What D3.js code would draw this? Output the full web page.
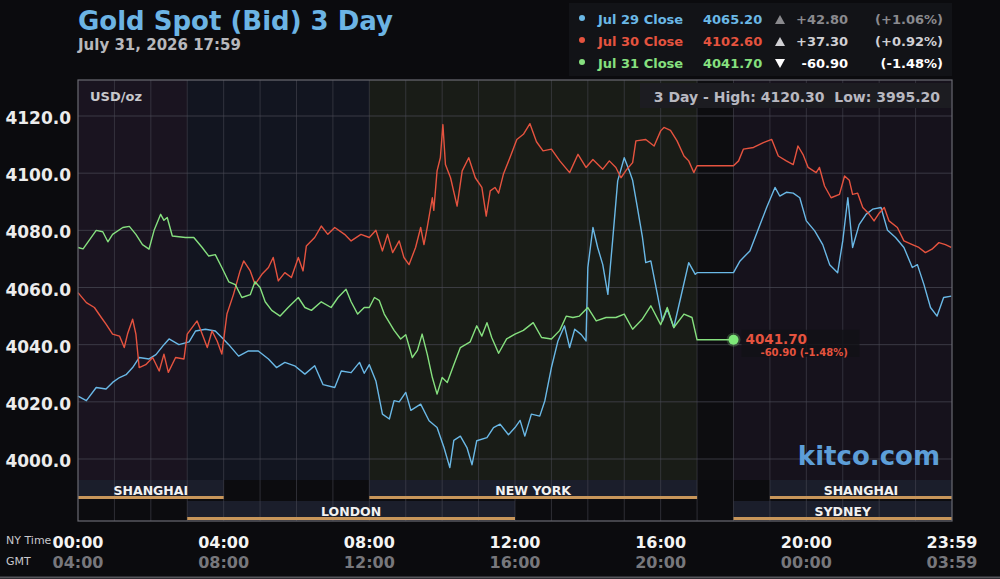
<!DOCTYPE html>
<html>
<head>
<meta charset="utf-8">
<script src="https://cdn.jsdelivr.net/npm/d3@7"></script>
<style>
  html, body { margin: 0; padding: 0; background: #0b0b0e; }
  svg { display: block; font-family: "DejaVu Sans", sans-serif; }
</style>
</head>
<body>
<div id="chart"></div>
<script>
(function(){
var width = 1000,
    height = 579;

// [hour of NY day, price]
var jul29 = [[0,4022],[0.23,4020.4],[0.5,4025],[0.77,4024.5],[0.95,4026.8],[1.14,4028.5],[1.32,4029.5],[1.5,4032],[1.68,4035.5],[1.95,4035],
  [2.14,4036.5],[2.36,4040],[2.5,4042],[2.77,4040],[3.05,4041],[3.23,4044.8],[3.5,4045.4],[3.77,4044.8],[3.95,4042.5],[4.14,4040],
  [4.41,4036],[4.68,4037.8],[4.95,4037.8],[5.23,4035],[5.45,4032],[5.68,4033.8],[5.95,4032.6],[6.23,4029.7],[6.5,4032.6],[6.73,4026],
  [7.05,4025],[7.23,4030.8],[7.5,4030.2],[7.73,4033.8],[7.86,4030],[8,4033],[8.18,4027.3],[8.36,4015.7],[8.55,4014],[8.68,4020.4],
  [8.82,4020],[9,4023.3],[9.14,4017],[9.41,4019.2],[9.64,4013.4],[9.86,4011],[10.05,4004],[10.21,3997],[10.32,4006.5],[10.5,4008],
  [10.68,4004],[10.82,3998],[10.95,4006.4],[11.23,4007.5],[11.41,4011],[11.59,4012.2],[11.82,4008.5],[12,4011],[12.14,4013.5],[12.27,4008],
  [12.45,4015.7],[12.68,4015],[12.82,4020.4],[13,4032],[13.18,4041.3],[13.36,4046.6],[13.5,4039],[13.64,4045.4],[13.82,4043.5],[13.95,4041.3],
  [14,4067],[14.14,4081],[14.27,4074],[14.41,4068],[14.55,4057.6],[14.68,4076.3],[14.82,4097.3],[15,4105.4],[15.14,4100.8],[15.23,4097.5],
  [15.36,4088],[15.5,4077.5],[15.59,4068.7],[15.73,4069.3],[15.91,4057.6],[16.05,4048.3],[16.18,4052.5],[16.36,4046],[16.55,4056.5],[16.77,4068.7],
  [16.95,4064.6],[17,4065.2],[18,4065.2],[18.18,4069.3],[18.45,4072.8],[18.73,4082],[18.91,4088],[19.14,4095],[19.27,4092],[19.45,4093.3],
  [19.64,4093],[19.82,4091.4],[20,4083.3],[20.23,4079.8],[20.45,4075],[20.64,4068],[20.86,4065.2],[21,4076.3],[21.14,4091.4],[21.27,4074],
  [21.45,4082],[21.64,4085.6],[21.82,4087.4],[22.05,4088],[22.23,4080],[22.45,4077.5],[22.68,4074],[22.91,4067],[23.05,4068],[23.23,4061],
  [23.41,4053],[23.59,4050],[23.77,4056.5],[23.98,4057]];

var jul30 = [[0,4058.2],[0.23,4054.7],[0.45,4053],[0.64,4049.5],[0.77,4047.2],[0.95,4043.7],[1.14,4043],[1.27,4039],[1.36,4043.7],[1.5,4048.9],
  [1.59,4043.7],[1.68,4032],[1.86,4033],[2.05,4035.5],[2.23,4030.8],[2.36,4036.7],[2.48,4030.3],[2.68,4035.5],[2.91,4035],[3,4043.7],
  [3.27,4048.3],[3.41,4043.7],[3.55,4039],[3.68,4044.8],[3.82,4041.3],[3.95,4036.7],[4.09,4050.7],[4.27,4057.6],[4.45,4065.8],[4.55,4069.3],
  [4.73,4065.8],[4.86,4061.1],[5.05,4064.6],[5.23,4067],[5.36,4070.5],[5.5,4062.3],[5.68,4065.2],[5.86,4063.5],[6.05,4070.5],[6.18,4065.8],
  [6.27,4074.5],[6.5,4077.5],[6.68,4081.5],[6.86,4078.6],[7.05,4081],[7.32,4078.6],[7.5,4076.3],[7.77,4078.6],[8,4077.5],[8.18,4080],
  [8.36,4072.8],[8.5,4078.6],[8.64,4072.2],[8.82,4076.3],[8.95,4070.5],[9.09,4068],[9.27,4074],[9.41,4081],[9.5,4075],[9.59,4081],
  [9.73,4091.4],[9.77,4087],[9.86,4100.8],[9.95,4105.4],[10.02,4117],[10.09,4103],[10.23,4098.4],[10.41,4088.5],[10.55,4100.8],[10.73,4105.4],
  [10.91,4098.4],[11.09,4095],[11.21,4085],[11.32,4093.8],[11.45,4095],[11.55,4093],[11.68,4099.6],[11.86,4105.4],[12.05,4111.8],[12.23,4113.6],
  [12.41,4117.3],[12.59,4111],[12.77,4107.8],[13,4108.4],[13.23,4104.3],[13.5,4100.2],[13.73,4106.6],[13.95,4102],[14.14,4104.8],[14.41,4101.4],
  [14.59,4104.3],[14.77,4102],[14.91,4098.4],[15.05,4101],[15.23,4103.7],[15.32,4111.3],[15.59,4111.8],[15.82,4109.5],[16,4114.8],[16.09,4116],
  [16.27,4115],[16.45,4111.3],[16.64,4106],[16.77,4104.3],[16.91,4100.2],[17,4102.6],[18,4102.6],[18.14,4104.3],[18.27,4108.4],[18.55,4109],
  [18.82,4110.7],[19.05,4111.8],[19.23,4106],[19.45,4104.3],[19.64,4103],[19.77,4109.5],[19.91,4106.5],[20.05,4102],[20.27,4100.2],[20.36,4102],
  [20.5,4095.5],[20.68,4091.4],[20.91,4092.6],[21.05,4099],[21.18,4097.5],[21.27,4092.6],[21.41,4093],[21.55,4088],[21.73,4085.6],[21.86,4083.3],
  [22,4086],[22.14,4088],[22.27,4083.3],[22.5,4081],[22.68,4076.3],[22.91,4075],[23.09,4074],[23.27,4072.2],[23.45,4073.4],[23.64,4075.7],
  [23.82,4075],[23.98,4074]];

var jul31 = [[0,4074],[0.14,4073.5],[0.5,4080],[0.68,4079.5],[0.82,4076],[0.95,4078.6],[1.23,4081],[1.41,4081.4],[1.59,4078.6],[1.77,4075],
  [1.95,4073.4],[2.09,4080],[2.27,4085.6],[2.36,4083.5],[2.45,4084.5],[2.59,4078],[2.95,4077.5],[3.18,4077.5],[3.41,4074],[3.59,4071],
  [3.77,4071.5],[3.95,4067],[4.14,4062],[4.32,4061],[4.5,4056.5],[4.73,4057.5],[4.86,4062],[5,4060],[5.14,4055],[5.32,4052],
  [5.55,4050],[5.77,4053],[6.05,4056.5],[6.23,4053],[6.41,4052],[6.68,4055],[6.95,4053],[7.14,4056.5],[7.36,4059.4],[7.5,4055],
  [7.68,4050.7],[7.86,4053],[8,4053],[8.14,4056.5],[8.27,4055.5],[8.41,4050.7],[8.68,4045],[8.86,4042],[9,4043.5],[9.18,4035.5],
  [9.32,4038],[9.45,4043.7],[9.59,4036.7],[9.73,4028.5],[9.86,4022.7],[10,4028.5],[10.14,4026.8],[10.32,4033],[10.5,4039],[10.77,4041],
  [10.95,4046.6],[11.09,4043],[11.23,4047.7],[11.36,4042.5],[11.55,4037],[11.77,4042],[12,4043.7],[12.23,4045],[12.5,4047.7],[12.73,4042.5],
  [13,4042],[13.23,4045],[13.41,4050],[13.59,4049.5],[13.77,4050],[14,4053],[14.23,4048.3],[14.5,4049.5],[14.77,4049.5],[15,4050.7],
  [15.23,4045.4],[15.5,4049],[15.73,4053.6],[16,4047],[16.18,4053],[16.36,4046],[16.64,4050.7],[16.86,4049.5],[17,4041.7],[18,4041.7]];

var seriesNames = ["Jul 29 Close", "Jul 30 Close", "Jul 31 Close"];
var closes = ["4065.20", "4102.60", "4041.70"];
var changes = ["+42.80", "+37.30", "-60.90"];
var pcts = ["(+1.06%)", "(+0.92%)", "(-1.48%)"];
var colors = ["#6ab8e6", "#e5533f", "#86e07f"];

var yTicks = [4000, 4020, 4040, 4060, 4080, 4100, 4120];
var xTicks = [0, 4, 8, 12, 16, 20, 24];
var nyLabels = ["00:00", "04:00", "08:00", "12:00", "16:00", "20:00", "23:59"];
var gmtLabels = ["04:00", "08:00", "12:00", "16:00", "20:00", "00:00", "03:59"];

// trading sessions: [start hour, end hour, name, row]
var sessions = [[0, 4, "SHANGHAI", 0], [8, 17, "NEW YORK", 0], [19, 24, "SHANGHAI", 0],
                [3, 12, "LONDON", 1], [18, 24, "SYDNEY", 1]];
var zones = [[0, 3, "#1a1420"], [3, 8, "#121520"], [8, 17, "#191c17"], [17, 18, "#0d0d10"], [18, 24, "#16121c"]];

var left = 78, right = 952, top = 80, plotBottom = 480, bottom = 521;

var x = d3.scaleLinear().domain([0, 24]).range([left, right]);
var y = d3.scaleLinear().domain([4000, 4120]).range([459, 116]);

var svg = d3.select("#chart").append("svg")
  .attr("width", width)
  .attr("height", height);

svg.append("rect").attr("width", width).attr("height", height).attr("fill", "#0b0b0e");

// title
svg.append("text").attr("x", 78).attr("y", 30)
  .style("font-size", "26px").style("font-weight", "bold").style("fill", "#6cb4e4")
  .text("Gold Spot (Bid) 3 Day");
svg.append("text").attr("x", 78).attr("y", 50)
  .style("font-size", "15px").style("font-weight", "bold").style("fill", "#b8b8bc")
  .text("July 31, 2026 17:59");

// legend
var lg = svg.append("g");
lg.append("rect").attr("x", 569).attr("y", 3).attr("width", 383).attr("height", 73).attr("fill", "#121317");
var rowY = [19, 41, 63];
var chgColors = ["#8a8a8e", "#d0d0d4", "#ffffff"];
seriesNames.forEach(function(name, i) {
  var g = lg.append("g").attr("transform", "translate(0," + rowY[i] + ")")
    .style("font-size", "13px").style("font-weight", "bold");
  g.append("circle").attr("cx", 582).attr("cy", -1).attr("r", 3).attr("fill", colors[i]);
  g.append("text").attr("x", 598).attr("y", 5).style("fill", colors[i]).text(name);
  g.append("text").attr("x", 703).attr("y", 5).style("fill", colors[i]).text(closes[i]);
  var up = changes[i][0] == "+";
  g.append("path")
    .attr("d", up ? "M775,5 L785,5 L780,-4 Z" : "M775,-4 L785,-4 L780,5 Z")
    .attr("fill", chgColors[i]);
  g.append("text").attr("x", 848).attr("y", 5).attr("text-anchor", "end").style("fill", chgColors[i]).text(changes[i]);
  g.append("text").attr("x", 943).attr("y", 5).attr("text-anchor", "end").style("fill", chgColors[i]).text(pcts[i]);
});

// plot background zones
var plot = svg.append("g");
plot.selectAll(".zone").data(zones).enter().append("rect")
  .attr("x", function(d) { return x(d[0]); })
  .attr("width", function(d) { return x(d[1]) - x(d[0]); })
  .attr("y", top).attr("height", plotBottom - top)
  .attr("fill", function(d) { return d[2]; });

// session rows
plot.append("rect").attr("x", left).attr("y", plotBottom).attr("width", right - left).attr("height", bottom - plotBottom).attr("fill", "#0c0c0f");
var rowTop = [480, 501];
plot.selectAll(".sess").data(sessions).enter().append("rect")
  .attr("x", function(d) { return x(d[0]); })
  .attr("width", function(d) { return x(d[1]) - x(d[0]); })
  .attr("y", function(d) { return rowTop[d[3]]; })
  .attr("height", 19)
  .attr("fill", "#1b1e2b");

// grid
var hours = d3.range(1, 24);
plot.selectAll(".vg").data(hours).enter().append("line")
  .attr("x1", function(d) { return x(d); }).attr("x2", function(d) { return x(d); })
  .attr("y1", top).attr("y2", bottom)
  .attr("stroke", "#4a4a55").attr("stroke-opacity", 0.55).attr("stroke-width", 1);
plot.selectAll(".hg").data(yTicks).enter().append("line")
  .attr("x1", left).attr("x2", right)
  .attr("y1", function(d) { return y(d); }).attr("y2", function(d) { return y(d); })
  .attr("stroke", "#4a4a55").attr("stroke-opacity", 0.7).attr("stroke-width", 1);

// session lines + labels
plot.selectAll(".sline").data(sessions).enter().append("rect")
  .attr("x", function(d) { return x(d[0]); })
  .attr("width", function(d) { return x(d[1]) - x(d[0]); })
  .attr("y", function(d) { return rowTop[d[3]] + 16; })
  .attr("height", 3)
  .attr("fill", "#c8965a");
plot.selectAll(".slabel").data(sessions).enter().append("text")
  .attr("x", function(d) { return (x(d[0]) + x(d[1])) / 2; })
  .attr("y", function(d) { return rowTop[d[3]] + 15; })
  .attr("text-anchor", "middle")
  .style("font-size", "12.5px").style("font-weight", "bold").style("fill", "#f2f2f2")
  .text(function(d) { return d[2]; });

// y labels
svg.selectAll(".ylab").data(yTicks).enter().append("text")
  .attr("x", 71).attr("y", function(d) { return y(d) + 8; })
  .attr("text-anchor", "end")
  .style("font-size", "17px").style("font-weight", "bold").style("fill", "#ececec")
  .text(function(d) { return d3.format(".1f")(d); });

svg.append("text").attr("x", 90).attr("y", 101)
  .style("font-size", "13px").style("font-weight", "bold").style("fill", "#c8c8cc")
  .text("USD/oz");

// high / low box
svg.append("rect").attr("x", 640).attr("y", 83).attr("width", 311).attr("height", 25).attr("fill", "#1c1c21");
svg.append("text").attr("x", 940).attr("y", 102).attr("text-anchor", "end")
  .style("font-size", "14px").style("font-weight", "bold").style("fill", "#b8b8c0")
  .attr("xml:space", "preserve")
  .text("3 Day - High: 4120.30  Low: 3995.20");

// watermark
svg.append("text").attr("x", 940).attr("y", 465).attr("text-anchor", "end")
  .style("font-size", "26px").style("font-weight", "bold").style("fill", "#5d9ed8")
  .text("kitco.com");

// lines
var line = d3.line()
  .x(function(d) { return x(d[0]); })
  .y(function(d) { return y(d[1]); });

[jul29, jul30, jul31].forEach(function(s, i) {
  svg.append("path").datum(s)
    .attr("d", line)
    .attr("fill", "none")
    .attr("stroke", colors[i])
    .attr("stroke-width", 1.4)
    .attr("stroke-linejoin", "round");
});

// last point marker
var last = jul31[jul31.length - 1];
svg.append("rect").attr("x", x(last[0]) + 8).attr("y", y(last[1]) - 10).attr("width", 118).attr("height", 27)
  .attr("fill", "#121216").attr("fill-opacity", 0.8);
svg.append("circle").attr("cx", x(last[0])).attr("cy", y(last[1])).attr("r", 7)
  .attr("fill", colors[2]).attr("fill-opacity", 0.25);
svg.append("circle").attr("cx", x(last[0])).attr("cy", y(last[1])).attr("r", 5)
  .attr("fill", "#7ee879");
svg.append("text").attr("x", x(last[0]) + 12).attr("y", y(last[1]) + 4)
  .style("font-size", "13.5px").style("font-weight", "bold").style("fill", colors[1])
  .text(closes[2]);
svg.append("text").attr("x", x(last[0]) + 27).attr("y", y(last[1]) + 16)
  .style("font-size", "10px").style("font-weight", "bold").style("fill", colors[1])
  .text(changes[2] + " " + pcts[2]);

// border
svg.append("rect").attr("x", left).attr("y", top).attr("width", right - left).attr("height", bottom - top)
  .attr("fill", "none").attr("stroke", "#6a6a72").attr("stroke-width", 1.2);

// x axis labels
svg.append("text").attr("x", 6).attr("y", 544).style("font-size", "11px").style("fill", "#c8c8cc").text("NY Time");
svg.append("text").attr("x", 6).attr("y", 565).style("font-size", "11px").style("fill", "#c8c8cc").text("GMT");
svg.selectAll(".nyl").data(xTicks).enter().append("text")
  .attr("x", function(d) { return x(d); }).attr("y", 548)
  .attr("text-anchor", "middle")
  .style("font-size", "16px").style("font-weight", "bold").style("fill", "#f4f4f4")
  .text(function(d, i) { return nyLabels[i]; });
svg.selectAll(".gmtl").data(xTicks).enter().append("text")
  .attr("x", function(d) { return x(d); }).attr("y", 568)
  .attr("text-anchor", "middle")
  .style("font-size", "16px").style("font-weight", "bold").style("fill", "#77777c")
  .text(function(d, i) { return gmtLabels[i]; });

svg.append("line").attr("x1", 0).attr("x2", width).attr("y1", 577.5).attr("y2", 577.5)
  .attr("stroke", "#55555a").attr("stroke-width", 2);
})()
</script>
</body>
</html>
